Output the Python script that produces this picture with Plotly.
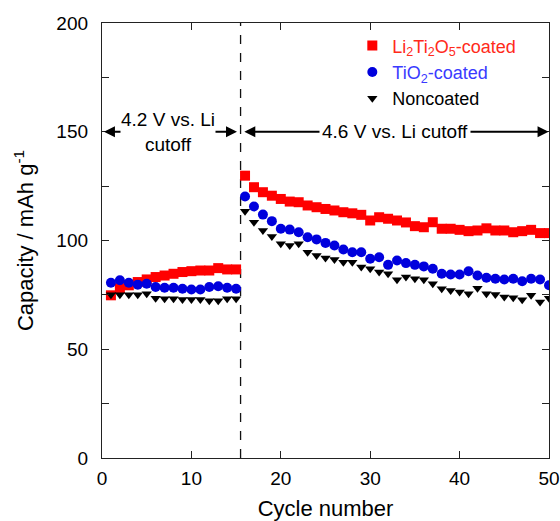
import plotly.graph_objects as go

cycles = list(range(1, 51))

li2ti2o5 = [74.8, 78.1, 79.4, 80.9, 82.1, 83.2, 83.9, 84.7, 85.5, 85.9,
            86.2, 86.2, 87.3, 86.7, 86.7,
            129.8, 124.5, 122.2, 120.6, 119.1, 117.9, 117.6, 116.1, 115.3, 114.5,
            113.8, 113.0, 112.5, 111.8, 109.2, 110.7, 110.0, 109.2, 108.3, 106.6,
            106.1, 108.4, 105.4, 105.4, 104.9, 104.3, 104.6, 105.6, 104.6, 104.6,
            103.8, 104.3, 104.9, 103.4, 103.4]

tio2 = [80.6, 81.7, 80.6, 79.7, 80.1, 78.6, 78.3, 78.3, 77.8, 77.5,
        77.5, 78.6, 79.0, 78.3, 77.8,
        120.2, 115.6, 111.9, 108.9, 105.4, 105.0, 103.8, 101.5, 100.5, 98.9,
        97.7, 95.9, 94.6, 94.6, 91.6, 92.3, 88.8, 90.8, 89.6, 88.8,
        88.1, 87.0, 84.7, 84.4, 84.4, 85.9, 83.9, 82.9, 82.4, 82.1,
        82.4, 81.3, 82.4, 82.1, 79.4]

noncoated = [75.0, 75.0, 75.0, 75.0, 75.5, 73.5, 73.2, 73.2, 72.9, 72.9,
             72.9, 72.3, 72.3, 73.2, 73.2,
             113.5, 108.4, 104.6, 101.8, 98.5, 97.7, 98.5, 94.6, 93.1, 92.0,
             91.3, 90.0, 90.0, 87.8, 87.0, 85.5, 84.7, 82.0, 83.2, 82.4,
             82.0, 80.1, 77.8, 77.0, 76.3, 75.5, 78.1, 75.5, 75.2, 74.0,
             73.7, 72.8, 74.8, 71.7, 73.5]

series_names = [
    "<span style='color:#ff2a1a'>Li<sub>2</sub>Ti<sub>2</sub>O<sub>5</sub>-coated</span>",
    "<span style='color:#3a3aff'>TiO<sub>2</sub>-coated</span>",
    "<span style='color:#000000'>Noncoated</span>",
]

cutoff_switch = 15.5
x_range = [0, 50]
y_range = [0, 200]
y_ticks = [0, 25, 50, 75, 100, 125, 150, 175, 200]
y_ticklabels = ["0", "", "50", "", "100", "", "150", "", "200"]
x_ticks = [0, 10, 20, 30, 40, 50]
arrow_level = 150
label_low = "4.2 V vs. Li<br>cutoff"
label_high = "4.6 V vs. Li cutoff"

FONT = "Liberation Sans, Arial, sans-serif"

fig = go.Figure()
fig.add_trace(go.Scatter(x=cycles, y=li2ti2o5, mode="markers", name=series_names[0],
                         marker=dict(symbol="square", size=10, color="#ff0000")))
fig.add_trace(go.Scatter(x=cycles, y=tio2, mode="markers", name=series_names[1],
                         marker=dict(symbol="circle", size=10, color="#0000dd")))
fig.add_trace(go.Scatter(x=cycles, y=noncoated, mode="markers", name=series_names[2],
                         marker=dict(symbol="triangle-down", size=9, color="#000000")))

# dashed boundary
fig.add_shape(type="line", x0=cutoff_switch, x1=cutoff_switch, y0=y_range[0], y1=y_range[1],
              xref="x", yref="y", line=dict(color="#111111", width=1.3, dash="dash"), layer="below")

# double arrows
for (xa, xb) in [(x_range[0] + 0.05, cutoff_switch - 0.4), (cutoff_switch + 0.25, x_range[1] - 0.05)]:
    fig.add_annotation(x=xb, y=arrow_level, ax=xa, ay=arrow_level, xref="x", yref="y",
                       axref="x", ayref="y", text="", showarrow=True, arrowhead=2,
                       arrowside="end+start", arrowsize=1.1, arrowwidth=2, arrowcolor="#000000",
                       standoff=0, startstandoff=0)

fig.add_annotation(x=7.4, y=arrow_level, xref="x", yref="y", text=label_low, showarrow=False,
                   font=dict(family=FONT, size=19, color="#000000"), bgcolor="white",
                   xanchor="center", yanchor="middle", borderpad=0)
fig.add_annotation(x=32.8, y=arrow_level, xref="x", yref="y", text=label_high, showarrow=False,
                   font=dict(family=FONT, size=19, color="#000000"), bgcolor="white",
                   xanchor="center", yanchor="middle", borderpad=2)

axis_common = dict(showgrid=False, zeroline=False, showline=True, linecolor="#222222",
                   linewidth=1.3, mirror="ticks", ticks="inside", ticklen=7, tickwidth=1.3,
                   tickcolor="#222222", automargin=False,
                   tickfont=dict(family=FONT, size=19, color="#000000"))

fig.update_xaxes(range=x_range, tickvals=x_ticks,
                 title=dict(text="Cycle number", font=dict(family=FONT, size=22, color="#000000"),
                            standoff=14),
                 ticklabelstandoff=3, **axis_common)
fig.update_yaxes(range=y_range, tickvals=y_ticks, ticktext=y_ticklabels,
                 title=dict(text="Capacity / mAh g<sup>-1</sup>",
                            font=dict(family=FONT, size=22, color="#000000"), standoff=16),
                 ticklabelstandoff=9, **axis_common)

fig.update_layout(
    width=560, height=521,
    margin=dict(l=102, r=11, t=23, b=63),
    paper_bgcolor="white", plot_bgcolor="white",
    font=dict(family=FONT, size=18, color="#000000"),
    showlegend=True,
    legend=dict(x=0.56, y=0.99, xanchor="left", yanchor="top", bgcolor="rgba(0,0,0,0)",
                font=dict(family=FONT, size=18), tracegroupgap=0, itemwidth=30),
)

fig.write_html("out.html")
